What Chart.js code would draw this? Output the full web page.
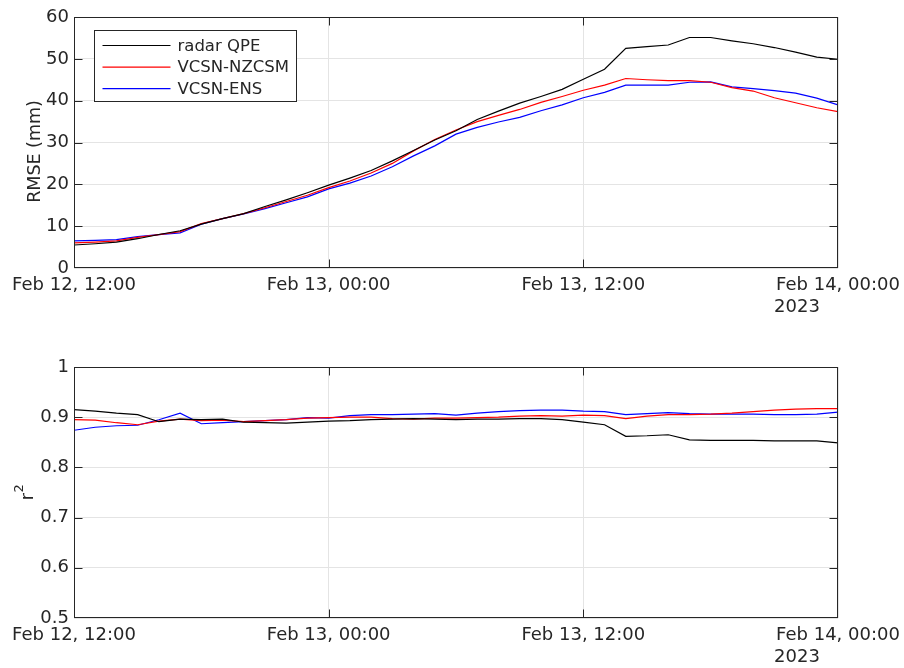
<!DOCTYPE html>
<html>
<head>
<meta charset="utf-8">
<script src="https://cdn.jsdelivr.net/npm/chart.js@4"></script>
<style>
  html, body { margin: 0; padding: 0; background: #ffffff; }
  #wrap { position: relative; width: 904px; height: 668px; }
  canvas { position: absolute; left: 0; }
</style>
</head>
<body>
<div id="wrap">
  <canvas id="rmseChart" width="904" height="334" style="top:0px"></canvas>
  <canvas id="r2Chart" width="904" height="334" style="top:334px"></canvas>
</div>
<script>
// Hours since Feb 12, 12:00 (hourly verification times)
const hours = [0, 1, 2, 3, 4, 5, 6, 7, 8, 9, 10, 11, 12, 13, 14, 15, 16, 17, 18,
               19, 20, 21, 22, 23, 24, 25, 26, 27, 28, 29, 30, 31, 32, 33, 34, 35, 36];

const timeTickHours = [0, 12, 24, 36];
const timeTickLabels = ['Feb 12, 12:00', 'Feb 13, 00:00', 'Feb 13, 12:00', 'Feb 14, 00:00'];
const yearLabel = '2023';

const seriesNames = ['radar QPE', 'VCSN-NZCSM', 'VCSN-ENS'];
const seriesColors = ['#000000', '#ff0000', '#0000ff'];

// RMSE (mm)
const rmseRadar = [5.5, 5.8, 6.2, 7.0, 8.0, 8.9, 10.5, 11.8, 13.0, 14.7, 16.3, 18.0, 19.8,
                   21.5, 23.3, 25.6, 28.1, 30.6, 32.8, 35.5, 37.5, 39.4, 41.0, 42.7, 45.1,
                   47.5, 52.5, 52.9, 53.3, 55.1, 55.1, 54.3, 53.6, 52.7, 51.6, 50.4, 49.9];
const rmseNzcsm = [6.0, 6.2, 6.5, 7.3, 8.0, 8.7, 10.6, 11.8, 13.0, 14.4, 15.9, 17.4, 19.2,
                   20.8, 22.7, 25.0, 28.0, 30.7, 33.0, 35.0, 36.5, 37.9, 39.6, 41.0, 42.5,
                   43.7, 45.3, 45.0, 44.8, 44.8, 44.4, 43.1, 42.3, 40.7, 39.5, 38.3, 37.4];
const rmseEns   = [6.5, 6.6, 6.8, 7.5, 8.0, 8.4, 10.5, 11.8, 12.9, 14.2, 15.6, 17.0, 18.9,
                   20.3, 22.0, 24.2, 26.8, 29.2, 32.0, 33.6, 34.9, 36.0, 37.6, 39.0, 40.7,
                   42.0, 43.7, 43.7, 43.7, 44.4, 44.5, 43.3, 42.9, 42.4, 41.8, 40.6, 39.0];

// Coefficient of determination
const r2Radar = [0.915, 0.912, 0.908, 0.905, 0.891, 0.896, 0.895, 0.896, 0.890, 0.889, 0.888,
                 0.890, 0.892, 0.893, 0.895, 0.896, 0.897, 0.896, 0.895, 0.896, 0.896, 0.897,
                 0.897, 0.895, 0.890, 0.885, 0.862, 0.863, 0.865, 0.855, 0.854, 0.854, 0.854,
                 0.853, 0.853, 0.853, 0.849];
const r2Nzcsm = [0.895, 0.894, 0.889, 0.885, 0.892, 0.896, 0.893, 0.894, 0.891, 0.893, 0.895,
                 0.898, 0.899, 0.900, 0.900, 0.897, 0.896, 0.898, 0.898, 0.899, 0.900, 0.902,
                 0.903, 0.902, 0.904, 0.903, 0.897, 0.902, 0.905, 0.905, 0.906, 0.908, 0.911,
                 0.914, 0.916, 0.917, 0.917];
const r2Ens   = [0.874, 0.880, 0.883, 0.884, 0.895, 0.908, 0.887, 0.889, 0.891, 0.893, 0.895,
                 0.899, 0.898, 0.903, 0.905, 0.905, 0.906, 0.907, 0.904, 0.908, 0.911, 0.913,
                 0.914, 0.914, 0.912, 0.911, 0.905, 0.907, 0.909, 0.907, 0.906, 0.906, 0.906,
                 0.905, 0.905, 0.906, 0.910];

const rmseTicks = [0, 10, 20, 30, 40, 50, 60];
const r2Ticks = [0.5, 0.6, 0.7, 0.8, 0.9, 1];

const FONT = "'DejaVu Sans', sans-serif";
const TEXT = '#262626';
const AXIS = '#262626';
const GRID = '#e4e4e4';
const TICK_LEN = 8;
const PLOT_LEFT = 74;      // width reserved for the y axis
const PLOT_RIGHT_GAP = 66; // space right of the plot box

function points(values) {
  return hours.map((h, i) => ({ x: h, y: values[i] }));
}

// Box, inward tick marks, y-axis title and the year under the last time label
const axesFrame = {
  id: 'axesFrame',
  afterDatasetsDraw(chart, args, opts) {
    const { ctx, chartArea: a, scales: { x, y } } = chart;
    const L = Math.round(a.left) + 0.5, R = Math.round(a.right) - 0.5;
    const T = Math.round(a.top) + 0.5, B = Math.round(a.bottom) - 0.5;
    const clampX = v => Math.min(R, Math.max(L, v));
    const clampY = v => Math.min(B, Math.max(T, v));
    ctx.save();
    ctx.strokeStyle = AXIS;
    ctx.lineWidth = 1;
    ctx.beginPath();
    y.ticks.forEach(t => {
      const py = clampY(Math.round(y.getPixelForValue(t.value)) + 0.5);
      ctx.moveTo(L, py); ctx.lineTo(L + TICK_LEN, py);
      ctx.moveTo(R, py); ctx.lineTo(R - TICK_LEN, py);
    });
    x.ticks.forEach(t => {
      const px = clampX(Math.round(x.getPixelForValue(t.value)) + 0.5);
      ctx.moveTo(px, B); ctx.lineTo(px, B - TICK_LEN);
      ctx.moveTo(px, T); ctx.lineTo(px, T + TICK_LEN);
    });
    ctx.stroke();
    ctx.strokeRect(L, T, R - L, B - T);

    // year beneath the final date label
    const last = timeTickHours[timeTickHours.length - 1];
    ctx.font = '18px ' + FONT;
    ctx.fillStyle = TEXT;
    const w = ctx.measureText(timeTickLabels[timeTickLabels.length - 1]).width;
    const lx = x.getPixelForValue(last) - w / 2 - 2;
    ctx.textAlign = 'left';
    ctx.textBaseline = 'top';
    ctx.fillText(yearLabel, lx, a.bottom + 30);

    // y-axis title, rotated; an optional superscript follows the base text
    ctx.save();
    ctx.translate(opts.titleX, (a.top + a.bottom) / 2 + opts.titleShift);
    ctx.rotate(-Math.PI / 2);
    ctx.textBaseline = 'alphabetic';
    ctx.textAlign = 'left';
    const baseFont = '17.5px ' + FONT, supFont = '13px ' + FONT;
    ctx.font = baseFont;
    const bw = ctx.measureText(opts.title).width;
    ctx.font = supFont;
    const sw = opts.sup ? ctx.measureText(opts.sup).width : 0;
    const x0 = -(bw + sw) / 2;
    ctx.font = baseFont;
    ctx.fillText(opts.title, x0, 0);
    if (opts.sup) {
      ctx.font = supFont;
      ctx.fillText(opts.sup, x0 + bw + 0.5, -10.5);
    }
    ctx.restore();
    ctx.restore();
  }
};

// Boxed legend in the upper-left corner of the plot
const boxLegend = {
  id: 'boxLegend',
  afterDraw(chart, args, opts) {
    if (!opts.show) return;
    const { ctx, chartArea: a } = chart;
    const bx = Math.round(a.left + 20) + 0.5, by = Math.round(a.top + 13) + 0.5;
    const bw = 202, bh = 71;
    ctx.save();
    ctx.fillStyle = '#ffffff';
    ctx.fillRect(bx, by, bw, bh);
    ctx.strokeStyle = AXIS;
    ctx.lineWidth = 1;
    ctx.strokeRect(bx, by, bw, bh);
    ctx.font = '16.5px ' + FONT;
    ctx.textAlign = 'left';
    ctx.textBaseline = 'middle';
    chart.data.datasets.forEach((ds, i) => {
      const ry = by + 15 + i * 21.6;
      ctx.strokeStyle = ds.borderColor;
      ctx.lineWidth = 1.2;
      ctx.beginPath();
      ctx.moveTo(bx + 8, ry);
      ctx.lineTo(bx + 76, ry);
      ctx.stroke();
      ctx.fillStyle = TEXT;
      ctx.fillText(ds.label, bx + 83, ry + 1);
    });
    ctx.restore();
  }
};

function makeChart(canvasId, seriesValues, yMin, yMax, yTicks, yTitle, layout, showLegend) {
  return new Chart(document.getElementById(canvasId), {
    type: 'line',
    data: {
      datasets: seriesValues.map((vals, i) => ({
        label: seriesNames[i],
        data: points(vals),
        borderColor: seriesColors[i],
        backgroundColor: seriesColors[i],
        borderWidth: 1.2,
        pointRadius: 0,
        tension: 0,
        fill: false
      }))
    },
    options: {
      responsive: false,
      animation: false,
      devicePixelRatio: 1,
      layout: { padding: { top: layout.top, right: 0, left: 0, bottom: 0 } },
      plugins: {
        legend: { display: false },
        tooltip: { enabled: false },
        boxLegend: { show: showLegend },
        axesFrame: {
          title: yTitle.text,
          sup: yTitle.sup,
          titleX: yTitle.baseline,
          titleShift: layout.titleShift
        }
      },
      scales: {
        x: {
          type: 'linear',
          min: 0,
          max: 36,
          afterBuildTicks: s => { s.ticks = timeTickHours.map(v => ({ value: v })); },
          afterFit: s => {
            s.height = layout.xHeight;
            s.paddingLeft = 0;
            s.paddingRight = PLOT_RIGHT_GAP;
          },
          ticks: {
            autoSkip: false,
            maxRotation: 0,
            minRotation: 0,
            padding: 7,
            color: TEXT,
            font: { family: FONT, size: 18 },
            callback: v => timeTickLabels[timeTickHours.indexOf(v)]
          },
          grid: { color: GRID, lineWidth: 1, drawTicks: false },
          border: { display: false }
        },
        y: {
          min: yMin,
          max: yMax,
          afterBuildTicks: s => { s.ticks = yTicks.map(v => ({ value: v })); },
          afterFit: s => { s.width = PLOT_LEFT; },
          ticks: {
            padding: 5,
            color: TEXT,
            font: { family: FONT, size: 18 },
            callback: v => String(Math.round(v * 10) / 10)
          },
          grid: { color: GRID, lineWidth: 1, drawTicks: false },
          border: { display: false }
        }
      }
    },
    plugins: [axesFrame, boxLegend]
  });
}

makeChart('rmseChart', [rmseRadar, rmseNzcsm, rmseEns], 0, 60, rmseTicks,
          { text: 'RMSE (mm)', sup: '', baseline: 40 },
          { top: 17, xHeight: 66, titleShift: 9 }, true);
makeChart('r2Chart', [r2Radar, r2Nzcsm, r2Ens], 0.5, 1, r2Ticks,
          { text: 'r', sup: '2', baseline: 33 },
          { top: 33, xHeight: 50, titleShift: 0 }, false);
</script>
</body>
</html>
